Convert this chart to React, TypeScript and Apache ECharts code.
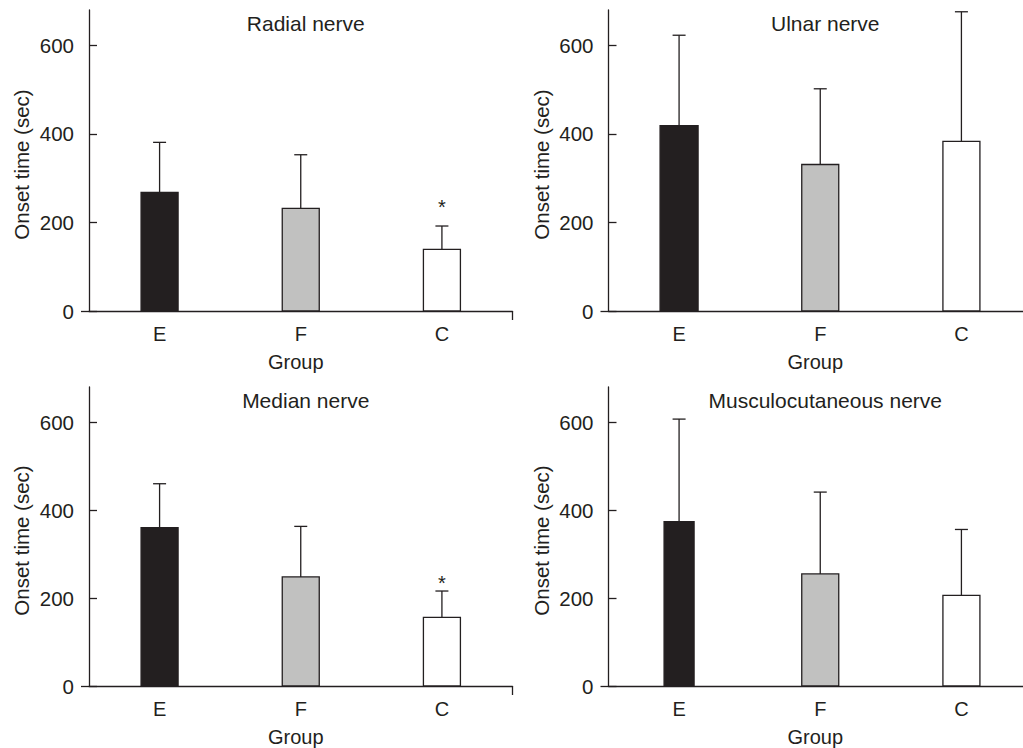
import React, { useEffect, useRef } from "react";
import * as echarts from "echarts";

const categories = ["E", "F", "C"];
const panelTitles = ["Radial nerve", "Ulnar nerve", "Median nerve", "Musculocutaneous nerve"];

const radialMeans = [268, 232, 139];
const radialSD = [113, 121, 53];
const radialStar = [null, null, 243];

const ulnarMeans = [419, 331, 383];
const ulnarSD = [204, 171, 293];
const ulnarStar = [null, null, null];

const medianMeans = [360, 248, 156];
const medianSD = [100, 115, 60];
const medianStar = [null, null, 243];

const musculoMeans = [374, 255, 206];
const musculoSD = [233, 186, 150];
const musculoStar = [null, null, null];

const yTicks = [0, 200, 400, 600];
const yMax = 680;

const INK = "#231f20";
const FONT = "'Liberation Sans', Arial, sans-serif";
const barFills = [INK, "#c1c1c0", "#ffffff"];

const grids = [
  { left: 89, top: 10, width: 423.5, height: 301 },
  { left: 608.5, top: 10, width: 423.5, height: 301 },
  { left: 89, top: 387, width: 423.5, height: 301 },
  { left: 608.5, top: 387, width: 423.5, height: 301 },
];
const barWidthsPerPanel = [
  [37, 37, 37],
  [38, 37, 37],
  [37, 37, 37],
  [30, 37, 37],
];

const panelData = [
  { means: radialMeans, sd: radialSD, star: radialStar },
  { means: ulnarMeans, sd: ulnarSD, star: ulnarStar },
  { means: medianMeans, sd: medianSD, star: medianStar },
  { means: musculoMeans, sd: musculoSD, star: musculoStar },
];

function buildOption() {
  const grid: any[] = [];
  const xAxis: any[] = [];
  const yAxis: any[] = [];
  const series: any[] = [];
  const title: any[] = [];

  panelData.forEach((p, k) => {
    const g = grids[k];
    grid.push({ left: g.left, top: g.top, width: g.width, height: g.height, containLabel: false });
    title.push({
      text: panelTitles[k],
      left: g.left + g.width / 2,
      top: g.top - 2,
      textAlign: "center",
      textStyle: { fontFamily: FONT, fontSize: 21, fontWeight: "normal", color: INK },
    });
    xAxis.push({
      type: "category",
      gridIndex: k,
      data: categories,
      boundaryGap: true,
      axisLine: { show: true, lineStyle: { color: INK, width: 1.3 } },
      axisTick: { show: false },
      axisLabel: { fontFamily: FONT, fontSize: 20, color: INK, margin: 13 },
      name: "Group",
      nameLocation: "middle",
      nameGap: 41,
      nameTextStyle: { fontFamily: FONT, fontSize: 20, color: INK, padding: [0, 10, 0, 0] },
      splitLine: { show: false },
    });
    xAxis.push({
      type: "value",
      gridIndex: k,
      min: 0,
      max: 3,
      position: "bottom",
      axisLine: { show: false },
      axisLabel: { show: false },
      splitLine: { show: false },
      axisTick: { show: true, customValues: [3], length: 9, inside: false, lineStyle: { color: INK, width: 1.3 } },
    });
    yAxis.push({
      type: "value",
      gridIndex: k,
      min: 0,
      max: yMax,
      axisLine: { show: true, lineStyle: { color: INK, width: 1.3 } },
      axisTick: { show: true, inside: true, length: 8, customValues: yTicks, lineStyle: { color: INK, width: 1.3 } },
      axisLabel: { fontFamily: FONT, fontSize: 20.5, color: INK, margin: 15, customValues: yTicks },
      splitLine: { show: false },
      name: "Onset time (sec)",
      nameLocation: "middle",
      nameGap: 57,
      nameTextStyle: { fontFamily: FONT, fontSize: 20.5, color: INK, padding: [0, 8, 0, 0] },
    });
    yAxis.push({
      type: "value",
      gridIndex: k,
      min: 0,
      max: yMax,
      position: "left",
      axisLine: { show: false },
      axisLabel: { show: false },
      splitLine: { show: false },
      axisTick: { show: true, inside: false, length: 8, customValues: [0], lineStyle: { color: INK, width: 1.3 } },
    });

    const widths = barWidthsPerPanel[k];
    series.push({
      type: "custom",
      xAxisIndex: k * 2,
      yAxisIndex: k * 2,
      clip: false,
      data: categories.map((c, i) => [i, p.means[i], p.sd[i], p.star[i] == null ? -1 : p.star[i]]),
      renderItem: (params: any, api: any) => {
        const i = api.value(0);
        const mean = api.value(1);
        const sd = api.value(2);
        const star = api.value(3);
        const base = api.coord([i, 0]);
        const top = api.coord([i, mean]);
        const et = api.coord([i, mean + sd]);
        const w = widths[i];
        const children: any[] = [
          {
            type: "line",
            shape: { x1: top[0], y1: top[1], x2: et[0], y2: et[1] },
            style: { stroke: INK, lineWidth: 1.3 },
          },
          {
            type: "line",
            shape: { x1: et[0] - 6.5, y1: et[1], x2: et[0] + 6.5, y2: et[1] },
            style: { stroke: INK, lineWidth: 1.3 },
          },
          {
            type: "rect",
            shape: { x: base[0] - w / 2, y: top[1], width: w, height: base[1] - top[1] },
            style: { fill: barFills[i], stroke: INK, lineWidth: 1.3 },
          },
        ];
        if (star >= 0) {
          const s = api.coord([i, star]);
          children.push({
            type: "text",
            x: s[0],
            y: s[1] + 4,
            style: {
              text: "*",
              fontFamily: FONT,
              fontSize: 20,
              fill: INK,
              align: "center",
              verticalAlign: "middle",
            },
          });
        }
        return { type: "group", children };
      },
    });
  });

  return {
    animation: false,
    backgroundColor: "#ffffff",
    title,
    grid,
    xAxis,
    yAxis,
    series,
  };
}

export default function App() {
  const ref = useRef<HTMLDivElement>(null);
  useEffect(() => {
    if (!ref.current) return;
    const chart = echarts.init(ref.current, null, { renderer: "svg" });
    chart.setOption(buildOption() as any);
    return () => chart.dispose();
  }, []);
  return (
    <div
      style={{ position: "absolute", left: 0, top: 0, width: 1023, height: 748, overflow: "hidden", background: "#fff" }}
    >
      <div ref={ref} style={{ width: 1045, height: 748 }} />
    </div>
  );
}
